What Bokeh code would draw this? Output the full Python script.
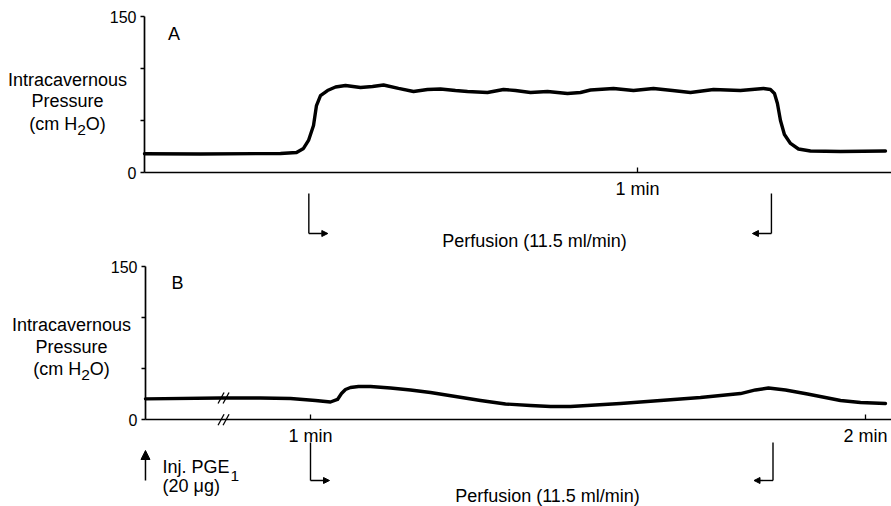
from bokeh.plotting import figure
from bokeh.layouts import column
from bokeh.models import (LinearAxis, FixedTicker, Range1d, Arrow, NormalHead,
                          CustomJSTickFormatter)
from bokeh.core.properties import value
from bokeh.embed import file_html
from bokeh.resources import INLINE

# ---------------- data ----------------
# Panel A: time (s from start of trace), intracavernous pressure (cm H2O)
a_time = [0.0, 6.8, 16.55, 18.5, 19.35, 19.96, 20.57, 20.93, 21.42, 22.27, 23.25,
          24.46, 26.29, 27.75, 29.09, 30.91, 32.74, 34.44, 36.02, 37.84, 39.31,
          41.74, 43.69, 45.15, 46.98, 49.05, 51.48, 53.06, 54.28, 57.08, 59.51,
          61.94, 64.26, 66.45, 69.25, 72.53, 75.33, 76.18, 76.67, 77.03, 77.40,
          77.88, 78.62, 79.59, 81.05, 84.70, 90.18]
a_pressure = [18.3, 18.1, 18.6, 19.5, 23.4, 31.1, 45.5, 64.7, 74.3, 79.1, 82.5,
              83.9, 82.0, 83.0, 84.4, 81.1, 78.2, 80.1, 80.6, 79.1, 78.2,
              77.2, 80.1, 79.1, 77.2, 78.2, 76.3, 77.2, 79.6, 81.1, 79.1,
              81.1, 79.1, 77.2, 80.1, 79.1, 81.1, 80.1, 76.3, 66.6, 50.3,
              36.8, 28.2, 22.9, 21.0, 20.5, 21.0]

# Panel B: time (s), pressure (cm H2O)
b_time = [42.16, 50.27, 54.59, 57.84, 60.54, 62.16, 62.92, 63.35, 63.78, 64.32,
          65.19, 66.49, 68.65, 70.81, 72.97, 75.68, 78.38, 81.08, 83.78, 85.95,
          88.11, 90.81, 93.51, 97.84, 102.16, 106.49, 108.11, 109.51, 111.35,
          113.73, 117.30, 119.46, 122.16]
b_pressure = [20.5, 21.3, 21.3, 20.8, 18.9, 17.4, 19.9, 25.7, 29.6, 31.6,
              32.6, 32.6, 31.1, 29.2, 26.7, 22.8, 18.9, 15.5, 14.0, 13.0,
              13.0, 14.5, 15.9, 18.9, 21.8, 25.7, 29.2, 31.1, 29.2,
              25.2, 18.9, 16.9, 15.9]

a_perfusion = [20.0, 76.3]      # perfusion start / end (s)
b_perfusion = [60.0, 110.0]
b_injection = 42.16              # PGE1 injection (s)
b_break = 50.6                   # time-axis break (s)

y_ticks = [0, 150]
y_minor_ticks = [50, 100]
a_x_ticks = [60]
b_x_ticks = [60, 120]

y_label_lines = ["Intracavernous", "Pressure"]
y_label_units = ["(cm H", "2", "O)"]
perfusion_label = "Perfusion (11.5 ml/min)"
inj_label = ["Inj. PGE", "1", "(20 \u03bcg)"]
panel_labels = ["A", "B"]

# ---------------- layout helpers (page px -> data) ----------------
FONT = "Liberation Sans"
TXT = 18.0
W, H = 891, 253
PAGE_X0 = 0

# Panel A geometry
A_X_ORIGIN, A_SX = 144.0, 493.0 / 60.0
A_Y_ZERO, A_SY = 172.3, 1.04
A_TOP = 0
def ax_(px): return (px - A_X_ORIGIN) / A_SX
def ay_(py): return (A_Y_ZERO - py) / A_SY

# Panel B geometry
B_X60, B_SX = 310.0, 9.25
B_Y_ZERO, B_SY = 419.3, 153.3 / 150.0
B_TOP = A_TOP + H
def bx_(px): return 60.0 + (px - B_X60) / B_SX
def by_(py): return (B_Y_ZERO - py) / B_SY


def make_fig(xr, yr):
    p = figure(width=W, height=H, x_range=Range1d(*xr), y_range=Range1d(*yr),
               output_backend="svg", toolbar_location=None,
               x_axis_type=None, y_axis_type=None, title=None)
    p.min_border_left = p.min_border_right = 0
    p.min_border_top = p.min_border_bottom = 0
    p.outline_line_color = None
    p.background_fill_color = "white"
    p.border_fill_color = "white"
    return p


def style_axis(ax):
    ax.axis_line_color = "black"
    ax.axis_line_width = 1.7
    ax.major_tick_line_color = "black"
    ax.major_tick_line_width = 1.3
    ax.minor_tick_line_color = "black"
    ax.minor_tick_line_width = 1.3
    ax.major_label_text_font = FONT
    ax.major_label_text_font_size = "16px"
    ax.major_label_text_color = "black"


def add_axes(p, x_loc, x_bounds, x_ticks):
    yax = LinearAxis(fixed_location=x_loc, bounds=(0, 150),
                     ticker=FixedTicker(ticks=y_ticks, minor_ticks=y_minor_ticks))
    style_axis(yax)
    yax.major_tick_in = 0
    yax.major_tick_out = 4
    yax.minor_tick_in = 0
    yax.minor_tick_out = 4
    yax.major_label_standoff = 4
    p.add_layout(yax, "left")

    xax = LinearAxis(fixed_location=0, bounds=x_bounds,
                     ticker=FixedTicker(ticks=x_ticks),
                     formatter=CustomJSTickFormatter(code="return (tick/60) + ' min'"))
    style_axis(xax)
    xax.major_tick_in = 5
    xax.major_tick_out = 0
    xax.minor_tick_in = 0
    xax.minor_tick_out = 0
    xax.major_label_standoff = 6
    xax.major_label_text_font_size = "%dpx" % TXT
    p.add_layout(xax, "below")


def txt(p, x, y, t, align="center", size=None, x_offset=0, y_offset=0):
    p.text(x=[x], y=[y], text=[t], text_font=value(FONT),
           text_font_size=size or "%dpx" % TXT,
           text_align=align, text_baseline="middle", text_color="black",
           x_offset=x_offset, y_offset=y_offset)


def y_label(p, cx, ys):
    for line, yy in zip(y_label_lines, ys[:2]):
        txt(p, cx, yy, line)
    # "(cm H" + subscript 2 + "O)"
    w1, w2, w3 = 2.666 * TXT, 0.556 * 15.5, 1.111 * TXT
    tot = w1 + w2 + w3
    txt(p, cx, ys[2], y_label_units[0], align="left", x_offset=-tot / 2)
    txt(p, cx, ys[2], y_label_units[1], align="left", size="15.5px",
        x_offset=-tot / 2 + w1, y_offset=6)
    txt(p, cx, ys[2], y_label_units[2], align="left", x_offset=-tot / 2 + w1 + w2)


def perfusion_marks(p, times, y_top, y_bot, head_len):
    start, end = times
    p.segment(x0=[start, end], y0=[y_top, y_top], x1=[start, end], y1=[y_bot, y_bot],
              line_color="black", line_width=1.4)
    p.add_layout(Arrow(x_start=start, y_start=y_bot, x_end=start + head_len, y_end=y_bot,
                       line_width=1.4, line_color="black",
                       end=NormalHead(size=6, fill_color="black", line_color="black")))
    p.add_layout(Arrow(x_start=end, y_start=y_bot, x_end=end - head_len, y_end=y_bot,
                       line_width=1.4, line_color="black",
                       end=NormalHead(size=6, fill_color="black", line_color="black")))


# ---------------- Panel A ----------------
pa = make_fig((ax_(PAGE_X0), ax_(PAGE_X0 + W)), (ay_(A_TOP + H), ay_(A_TOP)))
add_axes(pa, 0, (0, ax_(PAGE_X0 + W)), a_x_ticks)
pa.line(a_time, a_pressure, line_color="black", line_width=3.4,
        line_join="round", line_cap="round")
perfusion_marks(pa, a_perfusion, ay_(193), ay_(233), 19 / A_SX)
txt(pa, ax_(534), ay_(240), perfusion_label)
txt(pa, ax_(173.5), ay_(33), panel_labels[0])
y_label(pa, ax_(67), [ay_(79), ay_(100), ay_(123)])

# ---------------- Panel B ----------------
pb = make_fig((bx_(PAGE_X0), bx_(PAGE_X0 + W)), (by_(B_TOP + H), by_(B_TOP)))
add_axes(pb, b_injection, (b_injection, bx_(PAGE_X0 + W)), b_x_ticks)
pb.line(b_time, b_pressure, line_color="black", line_width=3.4,
        line_join="round", line_cap="round")
perfusion_marks(pb, b_perfusion, by_(442), by_(480), 19 / B_SX)
txt(pb, bx_(547), by_(495), perfusion_label)
txt(pb, bx_(177), by_(282), panel_labels[1])
y_label(pb, bx_(71), [by_(324), by_(346), by_(368)])

# axis break marks "//" on trace and time axis
brk_y = [0.0, 21.3]
x0s, y0s, x1s, y1s = [], [], [], []
for yc in brk_y:
    for dx in (-2.5, 2.5):
        x0s.append(b_break + (dx - 3) / B_SX)
        y0s.append(yc - 5.5 / B_SY)
        x1s.append(b_break + (dx + 3) / B_SX)
        y1s.append(yc + 5.5 / B_SY)
pb.segment(x0=x0s, y0=y0s, x1=x1s, y1=y1s, line_color="black", line_width=1.3)

# injection arrow
pb.add_layout(Arrow(x_start=b_injection, y_start=by_(480), x_end=b_injection, y_end=by_(450),
                    line_width=1.5, line_color="black",
                    end=NormalHead(size=9, fill_color="black", line_color="black")))
txt(pb, bx_(162), by_(466), inj_label[0], align="left")
txt(pb, bx_(162), by_(466), inj_label[1], align="left", size="15.5px",
    x_offset=3.724 * TXT + 1, y_offset=9)
txt(pb, bx_(162), by_(485), inj_label[2], align="left")

layout = column(pa, pb, spacing=0)
open("out.html", "w").write(file_html(layout, INLINE))
